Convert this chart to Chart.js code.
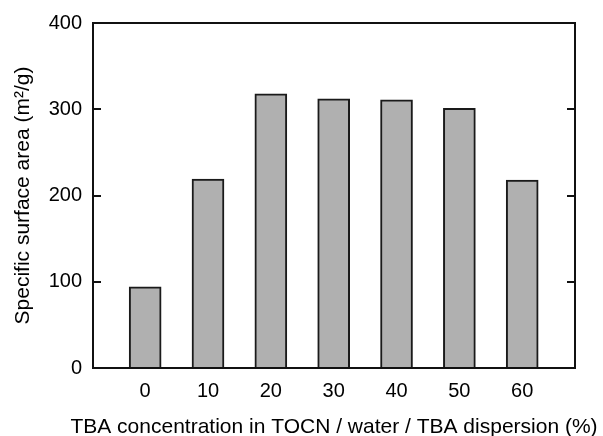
<!DOCTYPE html>
<html>
<head>
<meta charset="utf-8">
<script src="https://cdn.jsdelivr.net/npm/chart.js@4.4.1/dist/chart.umd.min.js"></script>
<style>
  html, body { margin: 0; padding: 0; background: #fff; }
  #wrap { width: 603px; height: 436px; }
</style>
</head>
<body>
<div id="wrap"><canvas id="c" width="603" height="436" style="width:603px;height:436px"></canvas></div>
<script>
// ---- data ----
const concentrations = [0, 10, 20, 30, 40, 50, 60];
const surfaceArea = [94, 219, 318, 312, 311, 301, 218];
const yTickValues = [0, 100, 200, 300, 400];
const innerTickValues = [100, 200, 300];
const xTitle = 'TBA concentration in TOCN / water / TBA dispersion (%)';
const yTitle = 'Specific surface area (m\u00B2/g)';

const FONT = '"Liberation Sans", Arial, Helvetica, sans-serif';

const framePlugin = {
  id: 'frame',
  afterDraw(chart) {
    const ctx = chart.ctx;
    const a = chart.chartArea;
    const y = chart.scales.y;
    ctx.save();
    ctx.strokeStyle = '#111';
    ctx.lineWidth = 2;
    ctx.strokeRect(a.left, a.top, a.right - a.left, a.bottom - a.top);
    ctx.beginPath();
    innerTickValues.forEach(v => {
      const py = Math.round(y.getPixelForValue(v));
      ctx.moveTo(a.left, py); ctx.lineTo(a.left + 8, py);
      ctx.moveTo(a.right, py); ctx.lineTo(a.right - 8, py);
    });
    ctx.stroke();
    // x-axis title (drawn without width compression)
    ctx.fillStyle = '#000';
    ctx.font = '21px ' + FONT;
    ctx.textAlign = 'center';
    ctx.textBaseline = 'alphabetic';
    ctx.fillText(xTitle, (a.left + a.right) / 2, 433);
    ctx.restore();
  }
};

new Chart(document.getElementById('c'), {
  type: 'bar',
  data: {
    datasets: [{
      data: concentrations.map((c, i) => ({ x: c, y: surfaceArea[i] })),
      backgroundColor: '#b0b0b0',
      borderColor: '#1a1a1a',
      borderWidth: 2,
      barThickness: 32
    }]
  },
  options: {
    responsive: false,
    animation: false,
    devicePixelRatio: 1,
    layout: { padding: { top: 20, right: 28, bottom: 0, left: 0 } },
    plugins: { legend: { display: false }, tooltip: { enabled: false } },
    scales: {
      x: {
        type: 'linear',
        offset: false,
        min: -8.3,
        max: 68.4,
        afterBuildTicks: s => { s.ticks = concentrations.map(v => ({ value: v })); },
        afterFit: s => { s.height = 68; },
        grid: { display: false, drawTicks: false, offset: false },
        border: { display: false },
        ticks: { color: '#000', font: { family: FONT, size: 20 }, padding: 11, maxRotation: 0, autoSkip: false },
        title: { display: false }
      },
      y: {
        min: 0,
        max: 400,
        afterBuildTicks: s => { s.ticks = yTickValues.map(v => ({ value: v })); },
        afterFit: s => { s.width = 93; },
        grid: { display: false, drawTicks: false },
        border: { display: false },
        ticks: { color: '#000', font: { family: FONT, size: 20 }, padding: 11 },
        title: { display: true, text: yTitle, color: '#000', font: { family: FONT, size: 21, lineHeight: 1 }, padding: { top: 13, bottom: 0 } }
      }
    }
  },
  plugins: [framePlugin]
});
</script>
</body>
</html>
